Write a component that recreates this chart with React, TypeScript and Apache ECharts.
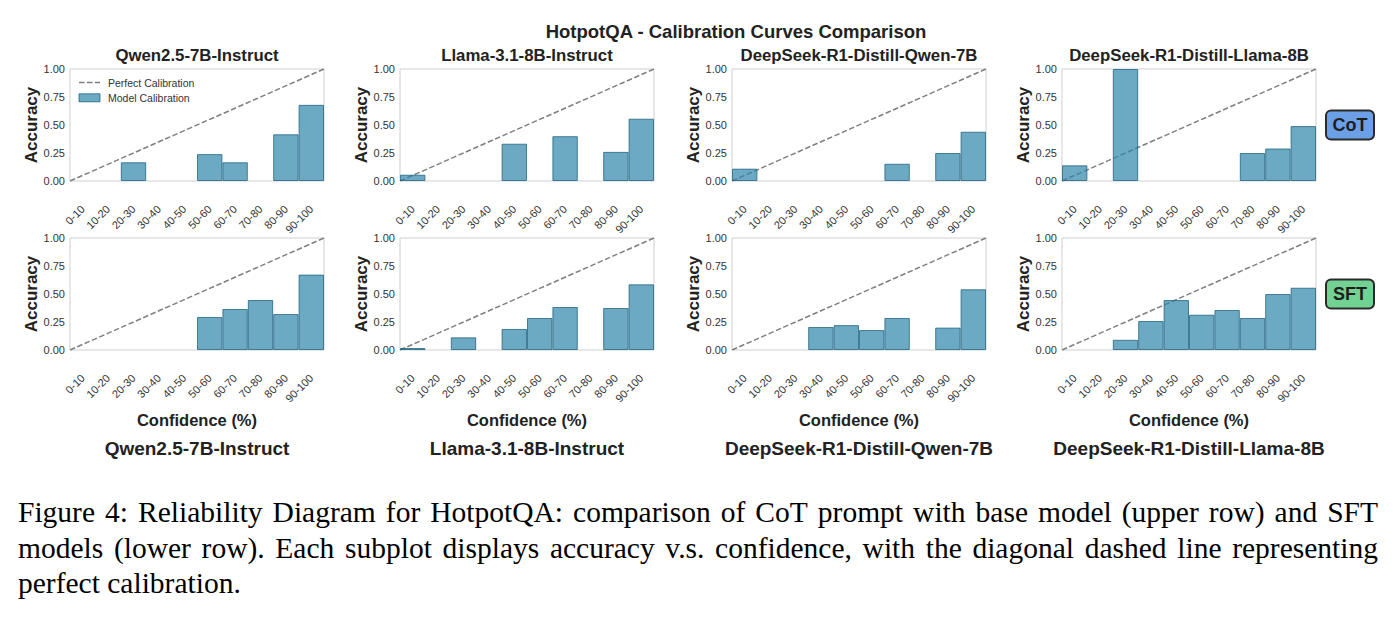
import React, { useEffect, useRef } from "react";
import * as echarts from "echarts";

// ---------------- DATA ----------------
const bins = ["0-10", "10-20", "20-30", "30-40", "40-50", "50-60", "60-70", "70-80", "80-90", "90-100"];
const models = [
  "Qwen2.5-7B-Instruct",
  "Llama-3.1-8B-Instruct",
  "DeepSeek-R1-Distill-Qwen-7B",
  "DeepSeek-R1-Distill-Llama-8B",
];
const cotQwen = [0, 0, 0.167, 0, 0, 0.24, 0.167, 0, 0.417, 0.68];
const cotLlama = [0.056, 0, 0, 0, 0.333, 0, 0.4, 0, 0.26, 0.556];
const cotDsQwen = [0.11, 0, 0, 0, 0, 0, 0.154, 0, 0.25, 0.44];
const cotDsLlama = [0.14, 0, 1.0, 0, 0, 0, 0, 0.25, 0.29, 0.49];
const sftQwen = [0, 0, 0, 0, 0, 0.295, 0.366, 0.446, 0.321, 0.673];
const sftLlama = [0.018, 0, 0.113, 0, 0.188, 0.286, 0.384, 0, 0.375, 0.586];
const sftDsQwen = [0, 0, 0, 0.205, 0.222, 0.178, 0.286, 0, 0.2, 0.542];
const sftDsLlama = [0, 0, 0.091, 0.259, 0.446, 0.315, 0.357, 0.286, 0.5, 0.556];
const rows = [
  [cotQwen, cotLlama, cotDsQwen, cotDsLlama],
  [sftQwen, sftLlama, sftDsQwen, sftDsLlama],
];
const rowLabels = ["CoT", "SFT"];
const diagonal = [
  [0, 0],
  [1, 1],
];
const mainTitle = "HotpotQA - Calibration Curves Comparison";
const xName = "Confidence (%)";
const yName = "Accuracy";
const legendNames = ["Perfect Calibration", "Model Calibration"];
const captionLines = [
  "Figure 4: Reliability Diagram for HotpotQA: comparison of CoT prompt with base model (upper row) and SFT",
  "models (lower row). Each subplot displays accuracy v.s. confidence, with the diagonal dashed line representing",
  "perfect calibration.",
];

// ---------------- LAYOUT / STYLE ----------------
const W = 1398;
const H = 617;
const SANS = "'Liberation Sans', Arial, Helvetica, sans-serif";
const SERIF = "'Liberation Serif', 'Times New Roman', Times, serif";
const gridLefts = [70, 400, 732, 1062];
const gridWidth = 254;
const rowTops = [69, 238];
const gridHeight = 112;
const rowBoxColors = ["#6b9fe6", "#72d293"];
const barFill = "rgba(46,134,171,0.7)";
const barEdge = "rgba(27,94,123,0.75)";
const diagColor = "#7f7f7f";
const diagDash = [5.5, 2.5];
const capFont = 29.5;
const capLeft = 18;
const capRight = 1378;
const capYs = [512, 547.5, 583];

function measure(text: string, font: string): number {
  const c = document.createElement("canvas");
  const ctx = c.getContext("2d")!;
  ctx.font = font;
  return ctx.measureText(text).width;
}

function buildCaption(): any[] {
  const els: any[] = [];
  const font = `${capFont}px ${SERIF}`;
  captionLines.forEach((line, li) => {
    const y = capYs[li];
    const last = li === captionLines.length - 1;
    if (last) {
      els.push({
        type: "text",
        x: capLeft,
        y,
        style: { text: line, fontSize: capFont, fontFamily: SERIF, fill: "#000", align: "left", verticalAlign: "middle" },
      });
      return;
    }
    const words = line.split(" ");
    const widths = words.map((w) => measure(w, font));
    const total = widths.reduce((a, b) => a + b, 0);
    const gap = (capRight - capLeft - total) / (words.length - 1);
    let x = capLeft;
    words.forEach((w, i) => {
      els.push({
        type: "text",
        x,
        y,
        style: { text: w, fontSize: capFont, fontFamily: SERIF, fill: "#000", align: "left", verticalAlign: "middle" },
      });
      x += widths[i] + gap;
    });
  });
  return els;
}

function buildLegend(): any[] {
  const lx = 79;
  const iconW = 21;
  const tx = 108;
  const y1 = 82.5;
  const y2 = 97.8;
  return [
    {
      type: "line",
      shape: { x1: lx, y1, x2: lx + iconW, y2: y1 },
      style: { stroke: diagColor, lineWidth: 1.5, lineDash: diagDash },
    },
    {
      type: "text",
      x: tx,
      y: y1,
      style: { text: legendNames[0], fontSize: 10.5, fontFamily: SANS, fill: "#333", align: "left", verticalAlign: "middle" },
    },
    {
      type: "rect",
      shape: { x: lx, y: y2 - 4, width: iconW, height: 8 },
      style: { fill: barFill, stroke: barEdge, lineWidth: 1 },
    },
    {
      type: "text",
      x: tx,
      y: y2,
      style: { text: legendNames[1], fontSize: 10.5, fontFamily: SANS, fill: "#333", align: "left", verticalAlign: "middle" },
    },
  ];
}

function buildOption(): any {
  const grid: any[] = [];
  const xAxis: any[] = [];
  const yAxis: any[] = [];
  const series: any[] = [];
  const graphic: any[] = [];

  rows.forEach((rowData, r) => {
    rowData.forEach((vals, c) => {
      const gi = r * 4 + c;
      grid.push({
        left: gridLefts[c],
        top: rowTops[r],
        width: gridWidth,
        height: gridHeight,
        show: true,
        borderColor: "#cfcfcf",
        borderWidth: 1,
        backgroundColor: "transparent",
      });
      xAxis.push({
        type: "category",
        gridIndex: gi,
        data: bins,
        boundaryGap: true,
        axisLine: { show: false },
        axisTick: { show: false },
        splitLine: { show: false },
        axisLabel: {
          rotate: 45,
          interval: 0,
          fontSize: 11,
          color: "#333",
          fontFamily: SANS,
          margin: 26,
        },
        name: r === 1 ? xName : "",
        nameLocation: "middle",
        nameGap: 61,
        nameTextStyle: { fontSize: 16.5, fontWeight: "bold", color: "#222", fontFamily: SANS },
      });
      xAxis.push({
        type: "value",
        gridIndex: gi,
        min: 0,
        max: 1,
        show: false,
      });
      yAxis.push({
        type: "value",
        gridIndex: gi,
        min: 0,
        max: 1,
        interval: 0.25,
        axisLine: { show: false },
        axisTick: { show: false },
        splitLine: { show: false },
        axisLabel: {
          formatter: (v: number) => v.toFixed(2),
          fontSize: 11,
          color: "#333",
          fontFamily: SANS,
          margin: 5,
        },
        name: yName,
        nameLocation: "middle",
        nameGap: 30,
        nameTextStyle: { fontSize: 17, fontWeight: "bold", color: "#222", fontFamily: SANS },
      });
      series.push({
        type: "line",
        name: legendNames[0],
        xAxisIndex: gi * 2 + 1,
        yAxisIndex: gi,
        data: diagonal,
        symbol: "none",
        silent: true,
        z: 1,
        lineStyle: { color: diagColor, width: 1.5, type: diagDash },
        itemStyle: { color: diagColor },
      });
      series.push({
        type: "bar",
        name: legendNames[1],
        xAxisIndex: gi * 2,
        yAxisIndex: gi,
        data: vals.map((v) => (v === 0 ? null : v)),
        barWidth: "100%",
        barCategoryGap: "0%",
        silent: true,
        z: 2,
        itemStyle: {
          color: barFill,
          borderColor: barEdge,
          borderWidth: 1,
        },
      });
    });
  });

  graphic.push({
    type: "text",
    x: 736,
    y: 31,
    style: { text: mainTitle, fontSize: 18.5, fontWeight: "bold", fontFamily: SANS, fill: "#222", align: "center", verticalAlign: "middle" },
  });
  models.forEach((m, c) => {
    const cx = gridLefts[c] + gridWidth / 2;
    graphic.push({
      type: "text",
      x: cx,
      y: 55,
      style: { text: m, fontSize: 16.8, fontWeight: "bold", fontFamily: SANS, fill: "#222", align: "center", verticalAlign: "middle" },
    });
    graphic.push({
      type: "text",
      x: cx,
      y: 448,
      style: { text: m, fontSize: 19, fontWeight: "bold", fontFamily: SANS, fill: "#222", align: "center", verticalAlign: "middle" },
    });
  });
  rowLabels.forEach((lab, r) => {
    const cy = rowTops[r] + gridHeight / 2;
    graphic.push({
      type: "rect",
      shape: { x: 1326, y: cy - 14.5, width: 48, height: 29, r: 5 },
      style: { fill: rowBoxColors[r], stroke: "#2b2b2b", lineWidth: 2 },
    });
    graphic.push({
      type: "text",
      x: 1350,
      y: cy,
      style: { text: lab, fontSize: 18, fontWeight: "bold", fontFamily: SANS, fill: "#1e1e1e", align: "center", verticalAlign: "middle" },
    });
  });
  graphic.push(...buildLegend());
  graphic.push(...buildCaption());

  return {
    animation: false,
    backgroundColor: "#ffffff",
    textStyle: { fontFamily: SANS },
    grid,
    xAxis,
    yAxis,
    series,
    graphic,
  };
}

export default function App() {
  const ref = useRef<HTMLDivElement>(null);
  useEffect(() => {
    if (!ref.current) return;
    const chart = echarts.init(ref.current, undefined, { renderer: "svg", width: W, height: H });
    chart.setOption(buildOption());
    return () => chart.dispose();
  }, []);
  return (
    <div
      ref={ref}
      style={{ position: "absolute", left: 0, top: 0, width: W, height: H, background: "#fff" }}
    />
  );
}
